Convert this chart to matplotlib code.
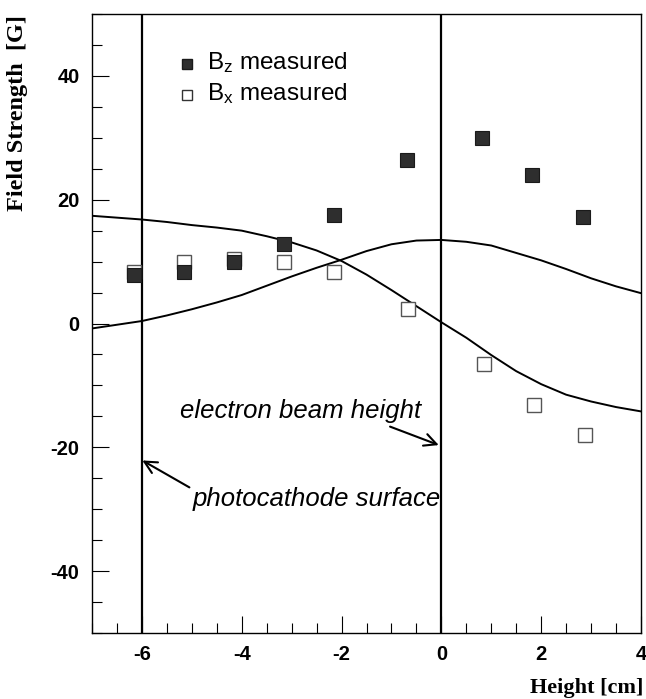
import matplotlib
matplotlib.use("Agg")
import matplotlib.pyplot as plt
from matplotlib.ticker import MultipleLocator

plt.rcParams['font.family'] = ['Liberation Sans', 'DejaVu Sans']
plt.rcParams['mathtext.fontset'] = 'custom'
plt.rcParams['mathtext.rm'] = 'Liberation Sans'
plt.rcParams['mathtext.it'] = 'Liberation Sans:italic'
plt.rcParams['axes.unicode_minus'] = False

# measured data
bz_x = [-6.16, -5.16, -4.16, -3.16, -2.16, -0.68, 0.82, 1.82, 2.84]
bz_y = [7.8, 8.3, 10.0, 12.8, 17.5, 26.4, 30.0, 24.0, 17.2]
bx_x = [-6.16, -5.16, -4.16, -3.16, -2.16, -0.66, 0.86, 1.86, 2.88]
bx_y = [8.3, 9.9, 10.5, 9.9, 8.4, 2.4, -6.6, -13.1, -18.0]

# calculated curves
ca_x = [-7.0, -6.5, -6.0, -5.5, -5.0, -4.5, -4.0, -3.5, -3.0, -2.5, -2.0, -1.5, -1.0, -0.5, 0.0,
        0.5, 1.0, 1.5, 2.0, 2.5, 3.0, 3.5, 4.0]
ca_y = [17.4, 17.1, 16.8, 16.4, 15.9, 15.5, 15.0, 14.1, 13.1, 11.8, 10.1, 7.9, 5.4, 2.8, 0.2,
        -2.3, -5.1, -7.7, -9.8, -11.5, -12.6, -13.5, -14.2]
cb_x = [-7.0, -6.5, -6.0, -5.5, -5.0, -4.5, -4.0, -3.5, -3.0, -2.5, -2.0, -1.5,
        -1.0, -0.5, 0.0, 0.5, 1.0, 1.5, 2.0, 2.5, 3.0, 3.5, 4.0]
cb_y = [-0.8, -0.2, 0.4, 1.3, 2.3, 3.4, 4.6, 6.1, 7.6, 9.0, 10.3, 11.7,
        12.8, 13.4, 13.5, 13.2, 12.6, 11.4, 10.2, 8.8, 7.3, 6.0, 4.9]

vlines = [-6, 0]
xticks = [-6, -4, -2, 0, 2, 4]
yticks = [-40, -20, 0, 20, 40]

W, H = 646, 699
fig = plt.figure(figsize=(W / 100, H / 100), dpi=100)
ax = fig.add_axes([92 / W, 1 - 633 / H, (641 - 92) / W, (633 - 14) / H])

ax.plot(ca_x, ca_y, color='black', lw=1.4)
ax.plot(cb_x, cb_y, color='black', lw=1.4)
for v in vlines:
    ax.axvline(v, color='black', lw=1.6)

ax.plot(bx_x, bx_y, 's', ms=9.5, mfc='white', mec='#555555', mew=1.0, ls='none', zorder=3)
ax.plot(bz_x, bz_y, 's', ms=9.5, mfc='#2e2e2e', mec='#1a1a1a', mew=0.8, ls='none', zorder=4)

ax.set_xlim(-7, 4)
ax.set_ylim(-50, 50)
ax.set_xticks(xticks)
ax.set_yticks(yticks)
ax.xaxis.set_minor_locator(MultipleLocator(0.5))
ax.yaxis.set_minor_locator(MultipleLocator(5))
ax.tick_params(which='major', direction='in', length=12, width=0.8, top=False, right=False,
               labelsize=14.5, pad=9)
ax.tick_params(which='minor', direction='in', length=7, width=0.8, top=False, right=False)
for lab in ax.get_xticklabels() + ax.get_yticklabels():
    lab.set_fontweight('bold')
for s in ax.spines.values():
    s.set_linewidth(1.0)

# legend (manual)
ax.plot([0.173], [0.919], 's', ms=7.5, mfc='#2e2e2e', mec='#1a1a1a', transform=ax.transAxes)
ax.plot([0.173], [0.869], 's', ms=7.5, mfc='white', mec='#333333', mew=1.0, transform=ax.transAxes)
ax.text(0.21, 0.921, r'$\mathregular{B_z}$ measured', transform=ax.transAxes,
        fontsize=17.5, va='center', ha='left')
ax.text(0.21, 0.871, r'$\mathregular{B_x}$ measured', transform=ax.transAxes,
        fontsize=17.5, va='center', ha='left')

# annotations
ax.text(-5.24, -14.1, 'electron beam height', fontsize=18.5, style='italic', va='center', ha='left')
ax.text(-4.98, -28.3, 'photocathode surface', fontsize=18.5, style='italic', va='center', ha='left')
ax.annotate('', xy=(0.0, -19.8), xytext=(-1.08, -16.5),
            arrowprops=dict(arrowstyle='->', lw=1.5, mutation_scale=22, color='black'))
ax.annotate('', xy=(-6.04, -21.9), xytext=(-5.0, -26.7),
            arrowprops=dict(arrowstyle='->', lw=1.5, mutation_scale=22, color='black'))

fig.text(18 / W, 1 - 15 / H, 'Field Strength  [G]', rotation=90, va='top', ha='center',
         fontsize=17.5, fontweight='bold', family='Liberation Serif')
fig.text(643 / W, 1 - 688 / H, 'Height [cm]', va='center', ha='right',
         fontsize=16, fontweight='bold', family='Liberation Serif')

fig.savefig('out.png', dpi=100)
